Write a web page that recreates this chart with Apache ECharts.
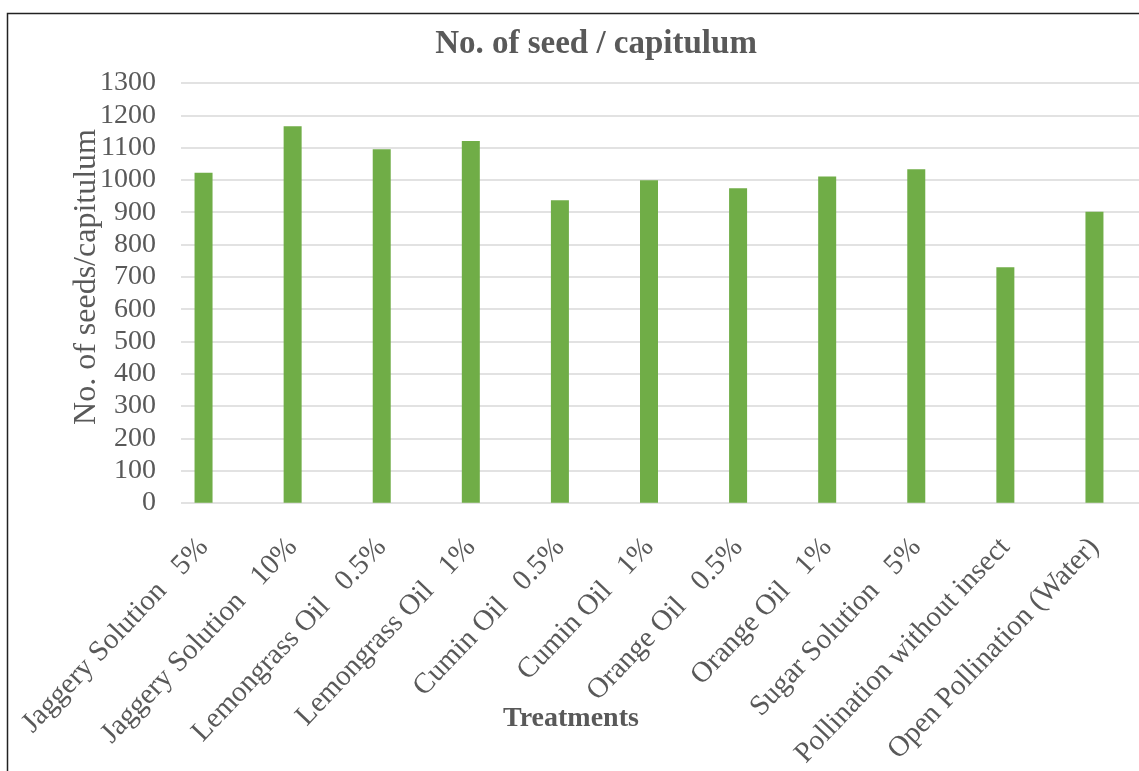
<!DOCTYPE html>
<html>
<head>
<meta charset="utf-8">
<script src="https://cdn.jsdelivr.net/npm/echarts@6/dist/echarts.min.js"></script>
<style>
  html, body { margin: 0; padding: 0; background: #ffffff; }
  #chart { width: 1139px; height: 771px; }
</style>
</head>
<body>
<div id="chart"></div>
<script>
// Seed count per capitulum for each treatment
const categories = [
  'Jaggery Solution   5%',
  'Jaggery Solution   10%',
  'Lemongrass Oil   0.5%',
  'Lemongrass Oil   1%',
  'Cumin Oil   0.5%',
  'Cumin Oil   1%',
  'Orange Oil   0.5%',
  'Orange Oil   1%',
  'Sugar Solution   5%',
  'Pollination without insect',
  'Open Pollination (Water)'
];
const seedsPerCapitulum = [1022, 1166, 1095, 1120, 937, 999, 974, 1010, 1033, 729, 901];
const yMin = 0, yMax = 1300, yStep = 100;

const FONT = '"Liberation Serif", "Times New Roman", serif';
const TEXT = '#595959';
const GRID_TOP = 83, GRID_BOTTOM = 268;

const chart = echarts.init(document.getElementById('chart'), null, { renderer: 'canvas' });

chart.setOption({
  backgroundColor: '#ffffff',
  animation: false,
  grid: [
    // value scale with horizontal gridlines
    { left: 181, right: 0, top: GRID_TOP, bottom: GRID_BOTTOM },
    // category band that holds the bars and their labels
    { left: 159, right: -9, top: GRID_TOP, bottom: GRID_BOTTOM }
  ],
  xAxis: [
    { type: 'category', gridIndex: 0, data: categories, show: false },
    {
      type: 'category', gridIndex: 1, data: categories,
      axisLine: { show: false }, axisTick: { show: false },
      axisLabel: {
        rotate: 46.5, interval: 0, margin: 40,
        fontFamily: FONT, fontSize: 29, color: TEXT
      }
    }
  ],
  yAxis: [
    {
      type: 'value', gridIndex: 0, min: yMin, max: yMax, interval: yStep,
      axisLine: { show: false }, axisTick: { show: false },
      axisLabel: {
        fontFamily: FONT, fontSize: 28, color: TEXT, margin: 25,
        formatter: v => String(v)
      },
      splitLine: { lineStyle: { color: '#d9d9d9', width: 1.5 } }
    },
    {
      type: 'value', gridIndex: 1, min: yMin, max: yMax, interval: yStep,
      show: false, splitLine: { show: false }
    }
  ],
  graphic: [
    {
      type: 'rect', silent: true, z: -1,
      shape: { x: 7.5, y: 13.5, width: 1200, height: 800 },
      style: { fill: 'none', stroke: '#222222', lineWidth: 1.5 }
    },
    {
      type: 'text', x: 596, y: 44,
      style: {
        text: 'No. of seed / capitulum', fontFamily: FONT, fontSize: 33,
        fontWeight: 'bold', fill: TEXT, align: 'center', verticalAlign: 'middle'
      }
    },
    {
      type: 'text', x: 87, y: 277, rotation: Math.PI / 2,
      style: {
        text: 'No. of seeds/capitulum', fontFamily: FONT, fontSize: 32,
        fill: TEXT, align: 'center', verticalAlign: 'middle'
      }
    },
    {
      type: 'text', x: 571, y: 719,
      style: {
        text: 'Treatments', fontFamily: FONT, fontSize: 28, fontWeight: 'bold',
        fill: TEXT, align: 'center', verticalAlign: 'middle'
      }
    }
  ],
  series: [
    {
      type: 'bar', xAxisIndex: 1, yAxisIndex: 1,
      data: seedsPerCapitulum, barWidth: 18,
      itemStyle: { color: '#70ad47' }
    }
  ]
});
</script>
</body>
</html>
